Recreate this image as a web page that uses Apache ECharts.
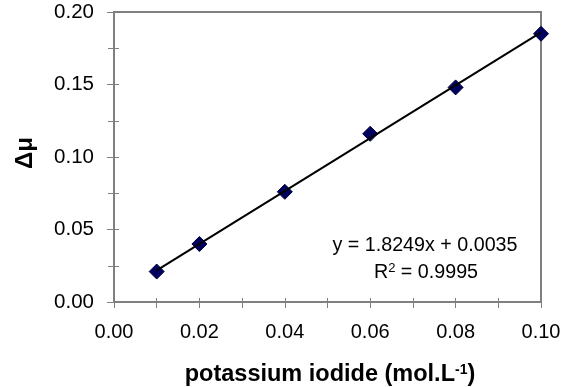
<!DOCTYPE html>
<html>
<head>
<meta charset="utf-8">
<script src="https://cdn.jsdelivr.net/npm/echarts@6/dist/echarts.min.js"></script>
<style>html,body{margin:0;padding:0;background:#fff}#c{width:572px;height:387px}</style>
</head>
<body>
<div id="c"></div>
<script>
const xValues = [0.01, 0.02, 0.04, 0.06, 0.08, 0.10];
const yValues = [0.021, 0.040, 0.076, 0.116, 0.148, 0.185];
const trendX = [0.01, 0.10];
const trendY = [0.0218, 0.186];
const xTickLabels = ['0.00', '0.02', '0.04', '0.06', '0.08', '0.10'];
const yTickLabels = ['0.00', '0.05', '0.10', '0.15', '0.20'];
const equationText = 'y = 1.8249x + 0.0035';
const r2Value = '0.9995';

const FONT = '"Liberation Sans", Arial, sans-serif';
const AXIS_COLOR = '#808080';

const chart = echarts.init(document.getElementById('c'), null, {renderer: 'canvas'});

function xAxisCfg(inside, labels) {
  return {
    type: 'value', min: 0, max: 0.1, interval: 0.02, position: 'bottom',
    axisLine: {show: !inside, lineStyle: {color: AXIS_COLOR, width: 2}},
    axisTick: {show: true, inside: inside, length: inside ? 4 : 6, lineStyle: {color: AXIS_COLOR, width: 1}},
    minorTick: {show: true, splitNumber: 2, length: inside ? 4 : 6, lineStyle: {color: AXIS_COLOR, width: 1}},
    splitLine: {show: false},
    axisLabel: labels ? {show: true, margin: 20, fontSize: 20, color: '#000', fontFamily: FONT,
      formatter: (v, i) => xTickLabels[i]} : {show: false}
  };
}
function yAxisCfg(inside, labels) {
  return {
    type: 'value', min: 0, max: 0.2, interval: 0.05, position: 'left',
    axisLine: {show: !inside, lineStyle: {color: AXIS_COLOR, width: 2}},
    axisTick: {show: true, inside: inside, length: inside ? 5 : 7, lineStyle: {color: AXIS_COLOR, width: 1}},
    minorTick: {show: true, splitNumber: 2, length: inside ? 5 : 6, lineStyle: {color: AXIS_COLOR, width: 1}},
    splitLine: {show: false},
    axisLabel: labels ? {show: true, margin: 20, fontSize: 20.5, color: '#000', fontFamily: FONT,
      formatter: (v, i) => yTickLabels[i]} : {show: false}
  };
}

chart.setOption({
  animation: false,
  backgroundColor: '#fff',
  grid: {left: 114, right: 31, top: 12, bottom: 85, show: true, borderColor: AXIS_COLOR, borderWidth: 2, containLabel: false},
  xAxis: [xAxisCfg(false, true), xAxisCfg(true, false)],
  yAxis: [yAxisCfg(false, true), yAxisCfg(true, false)],
  series: [
    {
      type: 'scatter', xAxisIndex: 0, yAxisIndex: 0,
      data: xValues.map((x, i) => [x, yValues[i]]),
      symbol: 'diamond', symbolSize: 15,
      itemStyle: {color: '#000060', borderColor: '#000033', borderWidth: 1, opacity: 1},
      z: 2
    },
    {
      type: 'line', xAxisIndex: 0, yAxisIndex: 0,
      data: trendX.map((x, i) => [x, trendY[i]]),
      symbol: 'none', lineStyle: {color: '#000', width: 2}, z: 3
    }
  ],
  graphic: [
    {type: 'text', position: [25, 153], rotation: Math.PI / 2,
      style: {text: 'Δμ', font: 'bold 24px ' + FONT, fill: '#000', textAlign: 'center', textVerticalAlign: 'middle'}},
    {type: 'text', position: [330, 375],
      style: {text: '{b|potassium iodide (mol.L}{s|-1}{b|)}', textAlign: 'center', textVerticalAlign: 'middle',
        rich: {b: {font: 'bold 23.5px ' + FONT, fill: '#000'}, s: {font: 'bold 14px ' + FONT, fill: '#000', padding: [0, 0, 10, 0]}}}},
    {type: 'text', position: [425, 246],
      style: {text: equationText, font: '19.7px ' + FONT, fill: '#000', textAlign: 'center', textVerticalAlign: 'middle'}},
    {type: 'text', position: [426, 273],
      style: {text: '{n|R}{s|2}{n| = ' + r2Value + '}', textAlign: 'center', textVerticalAlign: 'middle',
        rich: {n: {font: '19.7px ' + FONT, fill: '#000'}, s: {font: '13px ' + FONT, fill: '#000', padding: [0, 0, 10, 0]}}}}
  ]
});
</script>
</body>
</html>
